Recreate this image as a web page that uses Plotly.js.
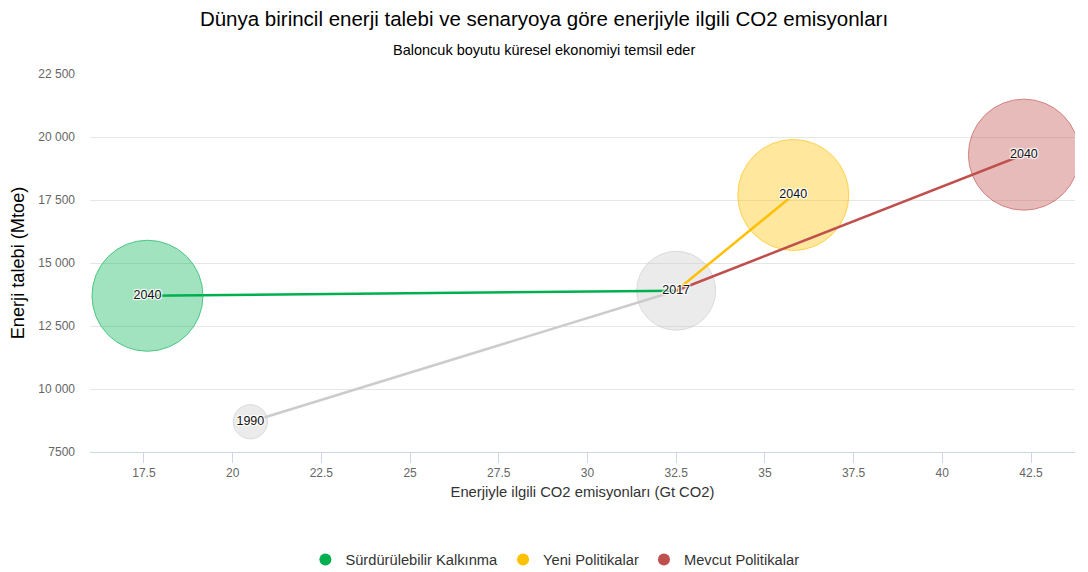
<!DOCTYPE html>
<html>
<head>
<meta charset="utf-8">
<script src="https://cdn.plot.ly/plotly-3.0.1.min.js"></script>
<style>html,body{margin:0;padding:0;background:#fff;}#chart{width:1088px;height:572px;}</style>
</head>
<body>
<div id="chart"></div>
<script>
// Historical points
const histYears = ['1990', '2017'];
const histCO2 = [20.5, 32.5];          // Gt CO2
const histEnergy = [8700, 13900];      // Mtoe
const histEconomy = [19, 101];         // bubble size (global economy)

// Scenarios (2040)
const scenarioNames = ['Sürdürülebilir Kalkınma', 'Yeni Politikalar', 'Mevcut Politikalar'];
const scenarioYear = '2040';
const scenarioCO2 = [17.6, 35.8, 42.3];
const scenarioEnergy = [13700, 17700, 19300];
const scenarioEconomy = [200, 200, 200];
const scenarioColors = ['#00b050', '#ffc000', '#c0504d'];
const scenarioFills = ['rgba(0,176,80,0.52)', 'rgba(255,192,0,0.54)', 'rgba(192,80,77,0.55)'];

// Axis ticks
const yTickVals = [7500, 10000, 12500, 15000, 17500, 20000, 22500];
const yTickText = ['7500', '10 000', '12 500', '15 000', '17 500', '20 000', '22 500'];
const xTickVals = [17.5, 20, 22.5, 25, 27.5, 30, 32.5, 35, 37.5, 40, 42.5];
const xTickText = ['17.5', '20', '22.5', '25', '27.5', '30', '32.5', '35', '37.5', '40', '42.5'];

const maxEconomy = 200, maxDiameter = 111;
const sizeref = 2 * maxEconomy / (maxDiameter * maxDiameter);
const font = 'Arial, "Liberation Sans", sans-serif';

const traces = [];
// historical bubbles
traces.push({
  x: histCO2, y: histEnergy, mode: 'markers', type: 'scatter', showlegend: false, hoverinfo: 'skip',
  marker: {size: histEconomy, sizemode: 'area', sizeref: sizeref, color: 'rgba(200,200,200,0.5)', line: {color: '#cccccc', width: 1}}
});
// scenario bubbles
scenarioNames.forEach((n, i) => {
  traces.push({
    x: [scenarioCO2[i]], y: [scenarioEnergy[i]], mode: 'markers', type: 'scatter', showlegend: false, hoverinfo: 'skip',
    marker: {size: [scenarioEconomy[i]], sizemode: 'area', sizeref: sizeref, color: scenarioFills[i], line: {color: scenarioColors[i], width: 1}}
  });
});
// historical line
traces.push({x: histCO2, y: histEnergy, mode: 'lines', type: 'scatter', showlegend: false, hoverinfo: 'skip',
  line: {color: '#cccccc', width: 2.5}});
// scenario lines from 2017
scenarioNames.forEach((n, i) => {
  traces.push({
    x: [histCO2[1], scenarioCO2[i]], y: [histEnergy[1], scenarioEnergy[i]], mode: 'lines', type: 'scatter',
    showlegend: false, hoverinfo: 'skip', line: {color: scenarioColors[i], width: 2.5}
  });
});
// labels
const labelFont = {family: font, size: 12.5, color: '#111',
  shadow: '1px 1px 1px #fff, -1px -1px 1px #fff, 1px -1px 1px #fff, -1px 1px 1px #fff'};
traces.push({
  x: histCO2.concat(scenarioCO2), y: histEnergy.concat(scenarioEnergy),
  text: histYears.concat(scenarioNames.map(() => scenarioYear)),
  mode: 'text', type: 'scatter', textposition: 'middle center', showlegend: false, hoverinfo: 'skip',
  textfont: labelFont
});
// legend entries
scenarioNames.forEach((n, i) => {
  traces.push({x: [null], y: [null], mode: 'markers', type: 'scatter', name: n,
    marker: {size: 13, color: scenarioColors[i]}});
});

const layout = {
  width: 1088, height: 572,
  margin: {l: 90, r: 13, t: 73.5, b: 120},
  paper_bgcolor: '#fff', plot_bgcolor: '#fff',
  font: {family: font, color: '#333'},
  title: {text: 'Dünya birincil enerji talebi ve senaryoya göre enerjiyle ilgili CO2 emisyonları',
    font: {family: font, size: 20.5, color: '#000'}, x: 0.5, xref: 'container', xanchor: 'center',
    y: 1 - 19 / 572, yref: 'container', yanchor: 'middle'},
  annotations: [{
    text: 'Baloncuk boyutu küresel ekonomiyi temsil eder', showarrow: false,
    xref: 'paper', yref: 'paper', x: (544 - 90) / 985, y: (452 - 49) / 378.5, xanchor: 'center', yanchor: 'middle',
    font: {family: font, size: 14.5, color: '#000'}
  }],
  xaxis: {
    range: [15.98, 43.74], tickvals: xTickVals, ticktext: xTickText,
    showgrid: false, zeroline: false, showline: true, linecolor: '#ccd6eb', linewidth: 1,
    ticks: 'outside', ticklen: 10, tickcolor: '#ccd6eb', tickfont: {family: font, size: 12, color: '#666'},
    title: {text: 'Enerjiyle ilgili CO2 emisyonları (Gt CO2)', font: {family: font, size: 14.8, color: '#333'}, standoff: 7}
  },
  yaxis: {
    range: [7500, 22500], tickvals: yTickVals, ticktext: yTickText,
    showgrid: true, gridcolor: '#e6e6e6', gridwidth: 1, zeroline: false, showline: false,
    ticks: '', ticklabelstandoff: 14, tickfont: {family: font, size: 12, color: '#666'},
    title: {text: 'Enerji talebi (Mtoe)', font: {family: font, size: 18.2, color: '#000'}, standoff: 8}
  },
  showlegend: true,
  legend: {orientation: 'h', x: 0.51, xref: 'container', xanchor: 'center', y: 1 - 560 / 572, yref: 'container', yanchor: 'middle',
    font: {family: font, size: 14.7, color: '#333'}, itemsizing: 'constant', bgcolor: 'rgba(0,0,0,0)'},
  hovermode: false
};

Plotly.newPlot('chart', traces, layout, {displayModeBar: false, staticPlot: true});
</script>
</body>
</html>
